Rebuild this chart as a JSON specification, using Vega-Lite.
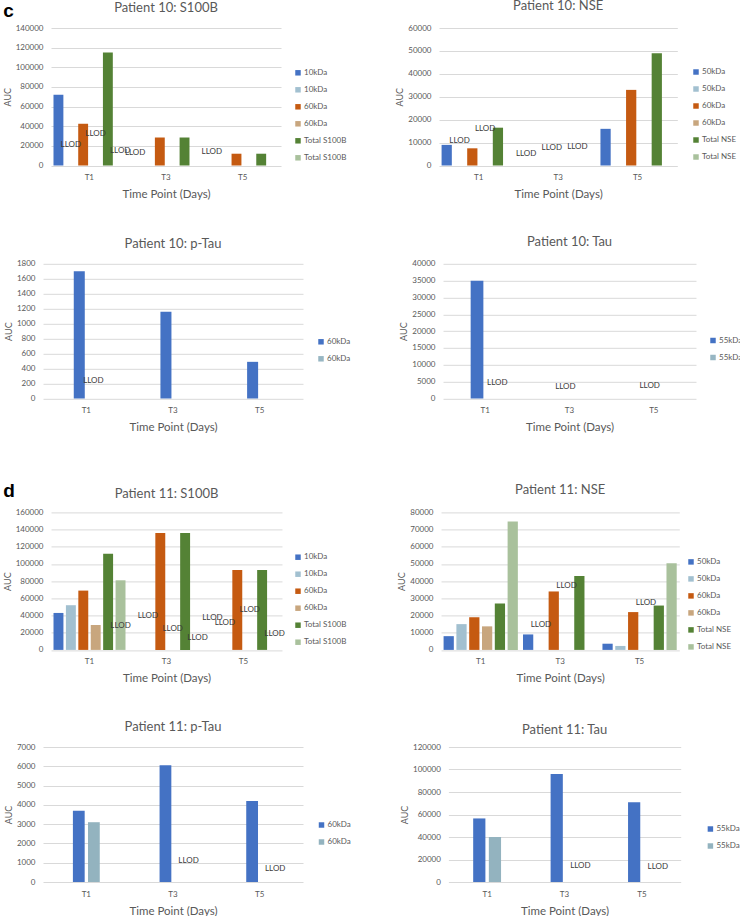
{
  "$schema": "https://vega.github.io/schema/vega-lite/v6.json",
  "background": "white",
  "padding": {"left": 3, "top": 0, "right": 0, "bottom": 0},
  "autosize": {"type": "pad"},
  "config": {
    "font": "Lato",
    "view": {"stroke": null},
    "axis": {"labelFont": "Lato", "labelFontSize": 8, "labelColor": "#595959", "titleFont": "Lato", "titleColor": "#595959", "titleFontWeight": "normal", "ticks": false, "domain": false, "gridColor": "#D9D9D9", "gridWidth": 1},
    "axisX": {"labelPadding": 8, "titlePadding": 7, "titleFontSize": 11.5, "labelAngle": 0, "grid": false},
    "axisY": {"labelPadding": 8, "titlePadding": 3, "titleFontSize": 9, "grid": true},
    "legend": {"symbolType": "square", "symbolSize": 30, "symbolStrokeWidth": 0, "labelFont": "Lato", "labelFontSize": 8, "labelColor": "#595959", "rowPadding": 9, "padding": 0, "labelOffset": 2},
    "title": {"font": "Lato", "fontSize": 13, "fontWeight": "normal", "color": "#595959"},
    "text": {"font": "Lato", "fontSize": 8, "color": "#3A3A3A", "align": "center", "baseline": "middle"}
  },
  "datasets": {
    "p10_s100b": [
      {"time": "T1", "series": "10kDa solid", "auc": 72000},
      {"time": "T1", "series": "60kDa solid", "auc": 42500},
      {"time": "T1", "series": "Total S100B solid", "auc": 115000},
      {"time": "T3", "series": "60kDa solid", "auc": 28500},
      {"time": "T3", "series": "Total S100B solid", "auc": 28500},
      {"time": "T5", "series": "60kDa solid", "auc": 12000},
      {"time": "T5", "series": "Total S100B solid", "auc": 12000},
      {"time": "T1", "series": "10kDa hatched", "note": "LLOD", "llod_at": 21000},
      {"time": "T1", "series": "60kDa hatched", "note": "LLOD", "llod_at": 32500},
      {"time": "T1", "series": "Total S100B hatched", "note": "LLOD", "llod_at": 15000},
      {"time": "T3", "series": "10kDa solid", "note": "LLOD", "llod_at": 13000},
      {"time": "T5", "series": "10kDa solid", "note": "LLOD", "llod_at": 14000}
    ],
    "p10_nse": [
      {"time": "T1", "series": "50kDa solid", "auc": 9000},
      {"time": "T1", "series": "60kDa solid", "auc": 7500},
      {"time": "T1", "series": "Total NSE solid", "auc": 16500},
      {"time": "T5", "series": "50kDa solid", "auc": 16000},
      {"time": "T5", "series": "60kDa solid", "auc": 33000},
      {"time": "T5", "series": "Total NSE solid", "auc": 49000},
      {"time": "T1", "series": "50kDa hatched", "note": "LLOD", "llod_at": 10600},
      {"time": "T1", "series": "60kDa hatched", "note": "LLOD", "llod_at": 16000},
      {"time": "T3", "series": "50kDa solid", "note": "LLOD", "llod_at": 5000},
      {"time": "T3", "series": "60kDa solid", "note": "LLOD", "llod_at": 7800},
      {"time": "T3", "series": "Total NSE solid", "note": "LLOD", "llod_at": 8100}
    ],
    "p10_ptau": [
      {"time": "T1", "series": "60kDa solid", "auc": 1700},
      {"time": "T3", "series": "60kDa solid", "auc": 1160},
      {"time": "T5", "series": "60kDa solid", "auc": 490},
      {"time": "T1", "series": "60kDa hatched", "note": "LLOD", "llod_at": 240}
    ],
    "p10_tau": [
      {"time": "T1", "series": "55kDa solid", "auc": 35000},
      {"time": "T1", "series": "55kDa hatched", "note": "LLOD", "llod_at": 4700},
      {"time": "T3", "series": "55kDa solid", "note": "LLOD", "llod_at": 3500},
      {"time": "T5", "series": "55kDa solid", "note": "LLOD", "llod_at": 3700}
    ],
    "p11_s100b": [
      {"time": "T1", "series": "10kDa solid", "auc": 43000},
      {"time": "T1", "series": "10kDa hatched", "auc": 52000},
      {"time": "T1", "series": "60kDa solid", "auc": 69000},
      {"time": "T1", "series": "60kDa hatched", "auc": 29000},
      {"time": "T1", "series": "Total S100B solid", "auc": 112000},
      {"time": "T1", "series": "Total S100B hatched", "auc": 81000},
      {"time": "T3", "series": "60kDa solid", "auc": 136000},
      {"time": "T3", "series": "Total S100B solid", "auc": 136000},
      {"time": "T5", "series": "60kDa solid", "auc": 93000},
      {"time": "T5", "series": "Total S100B solid", "auc": 93000},
      {"time": "T1", "series": "Total S100B hatched", "note": "LLOD", "llod_at": 28000},
      {"time": "T3", "series": "10kDa hatched", "note": "LLOD", "llod_at": 40000},
      {"time": "T3", "series": "60kDa hatched", "note": "LLOD", "llod_at": 24000},
      {"time": "T3", "series": "Total S100B hatched", "note": "LLOD", "llod_at": 14000},
      {"time": "T5", "series": "10kDa solid", "note": "LLOD", "llod_at": 37500},
      {"time": "T5", "series": "10kDa hatched", "note": "LLOD", "llod_at": 31000},
      {"time": "T5", "series": "60kDa hatched", "note": "LLOD", "llod_at": 47000},
      {"time": "T5", "series": "Total S100B hatched", "note": "LLOD", "llod_at": 19000}
    ],
    "p11_nse": [
      {"time": "T1", "series": "50kDa solid", "auc": 8000},
      {"time": "T1", "series": "50kDa hatched", "auc": 15000},
      {"time": "T1", "series": "60kDa solid", "auc": 19000},
      {"time": "T1", "series": "60kDa hatched", "auc": 13700},
      {"time": "T1", "series": "Total NSE solid", "auc": 27000},
      {"time": "T1", "series": "Total NSE hatched", "auc": 74700},
      {"time": "T3", "series": "50kDa solid", "auc": 9000},
      {"time": "T3", "series": "60kDa solid", "auc": 34000},
      {"time": "T3", "series": "Total NSE solid", "auc": 43000},
      {"time": "T5", "series": "50kDa solid", "auc": 3600},
      {"time": "T5", "series": "50kDa hatched", "auc": 2300},
      {"time": "T5", "series": "60kDa solid", "auc": 22000},
      {"time": "T5", "series": "Total NSE solid", "auc": 25800},
      {"time": "T5", "series": "Total NSE hatched", "auc": 50400},
      {"time": "T3", "series": "50kDa hatched", "note": "LLOD", "llod_at": 14500},
      {"time": "T3", "series": "60kDa hatched", "note": "LLOD", "llod_at": 36900},
      {"time": "T5", "series": "60kDa hatched", "note": "LLOD", "llod_at": 27000}
    ],
    "p11_ptau": [
      {"time": "T1", "series": "60kDa solid", "auc": 3700},
      {"time": "T1", "series": "60kDa hatched", "auc": 3100},
      {"time": "T3", "series": "60kDa solid", "auc": 6050},
      {"time": "T5", "series": "60kDa solid", "auc": 4200},
      {"time": "T3", "series": "60kDa hatched", "note": "LLOD", "llod_at": 1100},
      {"time": "T5", "series": "60kDa hatched", "note": "LLOD", "llod_at": 660}
    ],
    "p11_tau": [
      {"time": "T1", "series": "55kDa solid", "auc": 56500},
      {"time": "T1", "series": "55kDa hatched", "auc": 40000},
      {"time": "T3", "series": "55kDa solid", "auc": 96000},
      {"time": "T5", "series": "55kDa solid", "auc": 71000},
      {"time": "T3", "series": "55kDa hatched", "note": "LLOD", "llod_at": 14400},
      {"time": "T5", "series": "55kDa hatched", "note": "LLOD", "llod_at": 13500}
    ]
  },
  "columns": 1,
  "align": "none",
  "spacing": 48.4,
  "resolve": {"scale": {"color": "independent", "xOffset": "independent"}, "legend": {"color": "independent"}},
  "concat": [
    {
      "columns": 1,
      "align": "none",
      "spacing": 35.8,
      "resolve": {"scale": {"color": "independent", "xOffset": "independent"}, "legend": {"color": "independent"}},
      "concat": [
        {
          "title": {"text": "c", "anchor": "start", "offset": -21, "font": "Liberation Sans", "fontSize": 19, "fontWeight": "bold", "color": "#000000"},
          "bounds": "flush",
          "spacing": 0,
          "resolve": {"scale": {"color": "independent", "xOffset": "independent"}, "legend": {"color": "independent"}},
          "hconcat": [
            {"width": 8, "height": 1, "data": {"values": [{"blank": 0}]}, "mark": {"type": "point", "opacity": 0}},
            {
              "width": 230, "height": 137.5,
              "title": {"text": "Patient 10: S100B", "offset": 8.7},
              "data": {"name": "p10_s100b"},
              "encoding": {
                "x": {"field": "time", "type": "nominal", "scale": {"domain": ["T1", "T3", "T5"], "paddingInner": 0.065, "paddingOuter": 0.0325}, "axis": {"title": "Time Point (Days)"}},
                "xOffset": {"field": "series", "type": "nominal", "scale": {"domain": ["10kDa solid", "10kDa hatched", "60kDa solid", "60kDa hatched", "Total S100B solid", "Total S100B hatched"], "paddingInner": 0.2, "paddingOuter": 0}}
              },
              "layer": [
                {
                  "transform": [{"filter": "isValid(datum.auc)"}],
                  "mark": "bar",
                  "encoding": {
                    "y": {"field": "auc", "type": "quantitative", "scale": {"domain": [0, 140000]}, "axis": {"title": "AUC", "values": [0, 20000, 40000, 60000, 80000, 100000, 120000, 140000], "format": "d"}},
                    "color": {"field": "series", "type": "nominal", "scale": {"domain": ["10kDa solid", "10kDa hatched", "60kDa solid", "60kDa hatched", "Total S100B solid", "Total S100B hatched"], "range": ["#4472C4", "#A2C0D0", "#C55A11", "#C8A67E", "#548235", "#A9C19C"]}, "legend": {"title": null, "orient": "none", "legendX": 243, "legendY": 40.8, "labelExpr": "replace(replace(datum.label, ' hatched', ''), ' solid', '')"}}
                  }
                },
                {
                  "transform": [{"filter": "isValid(datum.llod_at)"}],
                  "mark": {"type": "text"},
                  "encoding": {
                    "y": {"field": "llod_at", "type": "quantitative", "axis": {"title": "AUC", "values": [0, 20000, 40000, 60000, 80000, 100000, 120000, 140000], "format": "d"}},
                    "text": {"field": "note"}
                  }
                }
              ]
            },
            {"width": 158, "height": 1, "data": {"values": [{"blank": 0}]}, "mark": {"type": "point", "opacity": 0}},
            {
              "width": 238.3, "height": 137.5,
              "title": {"text": "Patient 10: NSE", "offset": 10.9},
              "data": {"name": "p10_nse"},
              "encoding": {
                "x": {"field": "time", "type": "nominal", "scale": {"domain": ["T1", "T3", "T5"], "paddingInner": 0.065, "paddingOuter": 0.0325}, "axis": {"title": "Time Point (Days)"}},
                "xOffset": {"field": "series", "type": "nominal", "scale": {"domain": ["50kDa solid", "50kDa hatched", "60kDa solid", "60kDa hatched", "Total NSE solid", "Total NSE hatched"], "paddingInner": 0.2, "paddingOuter": 0}}
              },
              "layer": [
                {
                  "transform": [{"filter": "isValid(datum.auc)"}],
                  "mark": "bar",
                  "encoding": {
                    "y": {"field": "auc", "type": "quantitative", "scale": {"domain": [0, 60000]}, "axis": {"title": "AUC", "values": [0, 10000, 20000, 30000, 40000, 50000, 60000], "format": "d"}},
                    "color": {"field": "series", "type": "nominal", "scale": {"domain": ["50kDa solid", "50kDa hatched", "60kDa solid", "60kDa hatched", "Total NSE solid", "Total NSE hatched"], "range": ["#4472C4", "#A2C0D0", "#C55A11", "#C8A67E", "#548235", "#A9C19C"]}, "legend": {"title": null, "orient": "none", "legendX": 253, "legendY": 40, "labelExpr": "replace(replace(datum.label, ' hatched', ''), ' solid', '')"}}
                  }
                },
                {
                  "transform": [{"filter": "isValid(datum.llod_at)"}],
                  "mark": {"type": "text"},
                  "encoding": {
                    "y": {"field": "llod_at", "type": "quantitative", "axis": {"title": "AUC", "values": [0, 10000, 20000, 30000, 40000, 50000, 60000], "format": "d"}},
                    "text": {"field": "note"}
                  }
                }
              ]
            }
          ]
        },
        {
          "bounds": "flush",
          "spacing": 140,
          "resolve": {"scale": {"color": "independent", "xOffset": "independent"}, "legend": {"color": "independent"}},
          "hconcat": [
            {
              "width": 260, "height": 134.7,
              "title": {"text": "Patient 10: p-Tau", "offset": 8.7},
              "data": {"name": "p10_ptau"},
              "encoding": {
                "x": {"field": "time", "type": "nominal", "scale": {"domain": ["T1", "T3", "T5"], "paddingInner": 0.71, "paddingOuter": 0.355}, "axis": {"title": "Time Point (Days)"}},
                "xOffset": {"field": "series", "type": "nominal", "scale": {"domain": ["60kDa solid", "60kDa hatched"], "paddingInner": 0.22, "paddingOuter": 0}}
              },
              "layer": [
                {
                  "transform": [{"filter": "isValid(datum.auc)"}],
                  "mark": "bar",
                  "encoding": {
                    "y": {"field": "auc", "type": "quantitative", "scale": {"domain": [0, 1800]}, "axis": {"title": "AUC", "values": [0, 200, 400, 600, 800, 1000, 1200, 1400, 1600, 1800], "format": "d"}},
                    "color": {"field": "series", "type": "nominal", "scale": {"domain": ["60kDa solid", "60kDa hatched"], "range": ["#4472C4", "#97B6C3"]}, "legend": {"title": null, "orient": "none", "legendX": 274, "legendY": 74, "labelExpr": "replace(replace(datum.label, ' hatched', ''), ' solid', '')"}}
                  }
                },
                {
                  "transform": [{"filter": "isValid(datum.llod_at)"}],
                  "mark": {"type": "text"},
                  "encoding": {
                    "y": {"field": "llod_at", "type": "quantitative", "axis": {"title": "AUC", "values": [0, 200, 400, 600, 800, 1000, 1200, 1400, 1600, 1800], "format": "d"}},
                    "text": {"field": "note"}
                  }
                }
              ]
            },
            {
              "width": 253, "height": 134.7,
              "title": {"text": "Patient 10: Tau", "offset": 11},
              "data": {"name": "p10_tau"},
              "encoding": {
                "x": {"field": "time", "type": "nominal", "scale": {"domain": ["T1", "T3", "T5"], "paddingInner": 0.656, "paddingOuter": 0.328}, "axis": {"title": "Time Point (Days)"}},
                "xOffset": {"field": "series", "type": "nominal", "scale": {"domain": ["55kDa solid", "55kDa hatched"], "paddingInner": 0.22, "paddingOuter": 0}}
              },
              "layer": [
                {
                  "transform": [{"filter": "isValid(datum.auc)"}],
                  "mark": "bar",
                  "encoding": {
                    "y": {"field": "auc", "type": "quantitative", "scale": {"domain": [0, 40000]}, "axis": {"title": "AUC", "values": [0, 5000, 10000, 15000, 20000, 25000, 30000, 35000, 40000], "format": "d"}},
                    "color": {"field": "series", "type": "nominal", "scale": {"domain": ["55kDa solid", "55kDa hatched"], "range": ["#4472C4", "#97B6C3"]}, "legend": {"title": null, "orient": "none", "legendX": 266, "legendY": 72.7, "labelExpr": "replace(replace(datum.label, ' hatched', ''), ' solid', '')"}}
                  }
                },
                {
                  "transform": [{"filter": "isValid(datum.llod_at)"}],
                  "mark": {"type": "text", "dx": 4},
                  "encoding": {
                    "y": {"field": "llod_at", "type": "quantitative", "axis": {"title": "AUC", "values": [0, 5000, 10000, 15000, 20000, 25000, 30000, 35000, 40000], "format": "d"}},
                    "text": {"field": "note"}
                  }
                }
              ]
            }
          ]
        }
      ]
    },
    {
      "columns": 1,
      "align": "none",
      "spacing": 36.6,
      "resolve": {"scale": {"color": "independent", "xOffset": "independent"}, "legend": {"color": "independent"}},
      "concat": [
        {
          "title": {"text": "d", "anchor": "start", "offset": -17, "font": "Liberation Sans", "fontSize": 19, "fontWeight": "bold", "color": "#000000"},
          "bounds": "flush",
          "spacing": 0,
          "resolve": {"scale": {"color": "independent", "xOffset": "independent"}, "legend": {"color": "independent"}},
          "hconcat": [
            {"width": 8, "height": 1, "data": {"values": [{"blank": 0}]}, "mark": {"type": "point", "opacity": 0}},
            {
              "width": 231, "height": 137.5,
              "title": {"text": "Patient 11: S100B", "offset": 7.2},
              "data": {"name": "p11_s100b"},
              "encoding": {
                "x": {"field": "time", "type": "nominal", "scale": {"domain": ["T1", "T3", "T5"], "paddingInner": 0.065, "paddingOuter": 0.0325}, "axis": {"title": "Time Point (Days)"}},
                "xOffset": {"field": "series", "type": "nominal", "scale": {"domain": ["10kDa solid", "10kDa hatched", "60kDa solid", "60kDa hatched", "Total S100B solid", "Total S100B hatched"], "paddingInner": 0.2, "paddingOuter": 0}}
              },
              "layer": [
                {
                  "transform": [{"filter": "isValid(datum.auc)"}],
                  "mark": "bar",
                  "encoding": {
                    "y": {"field": "auc", "type": "quantitative", "scale": {"domain": [0, 160000]}, "axis": {"title": "AUC", "values": [0, 20000, 40000, 60000, 80000, 100000, 120000, 140000, 160000], "format": "d"}},
                    "color": {"field": "series", "type": "nominal", "scale": {"domain": ["10kDa solid", "10kDa hatched", "60kDa solid", "60kDa hatched", "Total S100B solid", "Total S100B hatched"], "range": ["#4472C4", "#A2C0D0", "#C55A11", "#C8A67E", "#548235", "#A9C19C"]}, "legend": {"title": null, "orient": "none", "legendX": 243, "legendY": 40.8, "labelExpr": "replace(replace(datum.label, ' hatched', ''), ' solid', '')"}}
                  }
                },
                {
                  "transform": [{"filter": "isValid(datum.llod_at)"}],
                  "mark": {"type": "text"},
                  "encoding": {
                    "y": {"field": "llod_at", "type": "quantitative", "axis": {"title": "AUC", "values": [0, 20000, 40000, 60000, 80000, 100000, 120000, 140000, 160000], "format": "d"}},
                    "text": {"field": "note"}
                  }
                }
              ]
            },
            {"width": 159, "height": 1, "data": {"values": [{"blank": 0}]}, "mark": {"type": "point", "opacity": 0}},
            {
              "width": 238.3, "height": 137.5,
              "title": {"text": "Patient 11: NSE", "offset": 11.6},
              "data": {"name": "p11_nse"},
              "encoding": {
                "x": {"field": "time", "type": "nominal", "scale": {"domain": ["T1", "T3", "T5"], "paddingInner": 0.065, "paddingOuter": 0.0325}, "axis": {"title": "Time Point (Days)"}},
                "xOffset": {"field": "series", "type": "nominal", "scale": {"domain": ["50kDa solid", "50kDa hatched", "60kDa solid", "60kDa hatched", "Total NSE solid", "Total NSE hatched"], "paddingInner": 0.2, "paddingOuter": 0}}
              },
              "layer": [
                {
                  "transform": [{"filter": "isValid(datum.auc)"}],
                  "mark": "bar",
                  "encoding": {
                    "y": {"field": "auc", "type": "quantitative", "scale": {"domain": [0, 80000]}, "axis": {"title": "AUC", "values": [0, 10000, 20000, 30000, 40000, 50000, 60000, 70000, 80000], "format": "d"}},
                    "color": {"field": "series", "type": "nominal", "scale": {"domain": ["50kDa solid", "50kDa hatched", "60kDa solid", "60kDa hatched", "Total NSE solid", "Total NSE hatched"], "range": ["#4472C4", "#A2C0D0", "#C55A11", "#C8A67E", "#548235", "#A9C19C"]}, "legend": {"title": null, "orient": "none", "legendX": 246, "legendY": 45.5, "labelExpr": "replace(replace(datum.label, ' hatched', ''), ' solid', '')"}}
                  }
                },
                {
                  "transform": [{"filter": "isValid(datum.llod_at)"}],
                  "mark": {"type": "text"},
                  "encoding": {
                    "y": {"field": "llod_at", "type": "quantitative", "axis": {"title": "AUC", "values": [0, 10000, 20000, 30000, 40000, 50000, 60000, 70000, 80000], "format": "d"}},
                    "text": {"field": "note"}
                  }
                }
              ]
            }
          ]
        },
        {
          "bounds": "flush",
          "spacing": 145.4,
          "resolve": {"scale": {"color": "independent", "xOffset": "independent"}, "legend": {"color": "independent"}},
          "hconcat": [
            {
              "width": 260, "height": 135,
              "title": {"text": "Patient 11: p-Tau", "offset": 8.9},
              "data": {"name": "p11_ptau"},
              "encoding": {
                "x": {"field": "time", "type": "nominal", "scale": {"domain": ["T1", "T3", "T5"], "paddingInner": 0.69, "paddingOuter": 0.345}, "axis": {"title": "Time Point (Days)"}},
                "xOffset": {"field": "series", "type": "nominal", "scale": {"domain": ["60kDa solid", "60kDa hatched"], "paddingInner": 0.22, "paddingOuter": 0}}
              },
              "layer": [
                {
                  "transform": [{"filter": "isValid(datum.auc)"}],
                  "mark": "bar",
                  "encoding": {
                    "y": {"field": "auc", "type": "quantitative", "scale": {"domain": [0, 7000]}, "axis": {"title": "AUC", "values": [0, 1000, 2000, 3000, 4000, 5000, 6000, 7000], "format": "d"}},
                    "color": {"field": "series", "type": "nominal", "scale": {"domain": ["60kDa solid", "60kDa hatched"], "range": ["#4472C4", "#93B3BF"]}, "legend": {"title": null, "orient": "none", "legendX": 274.5, "legendY": 74, "labelExpr": "replace(replace(datum.label, ' hatched', ''), ' solid', '')"}}
                  }
                },
                {
                  "transform": [{"filter": "isValid(datum.llod_at)"}],
                  "mark": {"type": "text", "dx": 8},
                  "encoding": {
                    "y": {"field": "llod_at", "type": "quantitative", "axis": {"title": "AUC", "values": [0, 1000, 2000, 3000, 4000, 5000, 6000, 7000], "format": "d"}},
                    "text": {"field": "note"}
                  }
                }
              ]
            },
            {
              "width": 232.3, "height": 135,
              "title": {"text": "Patient 11: Tau", "offset": 5.6},
              "data": {"name": "p11_tau"},
              "encoding": {
                "x": {"field": "time", "type": "nominal", "scale": {"domain": ["T1", "T3", "T5"], "paddingInner": 0.64, "paddingOuter": 0.32}, "axis": {"title": "Time Point (Days)"}},
                "xOffset": {"field": "series", "type": "nominal", "scale": {"domain": ["55kDa solid", "55kDa hatched"], "paddingInner": 0.22, "paddingOuter": 0}}
              },
              "layer": [
                {
                  "transform": [{"filter": "isValid(datum.auc)"}],
                  "mark": "bar",
                  "encoding": {
                    "y": {"field": "auc", "type": "quantitative", "scale": {"domain": [0, 120000]}, "axis": {"title": "AUC", "values": [0, 20000, 40000, 60000, 80000, 100000, 120000], "format": "d"}},
                    "color": {"field": "series", "type": "nominal", "scale": {"domain": ["55kDa solid", "55kDa hatched"], "range": ["#4472C4", "#93B3BF"]}, "legend": {"title": null, "orient": "none", "legendX": 258, "legendY": 78, "labelExpr": "replace(replace(datum.label, ' hatched', ''), ' solid', '')"}}
                  }
                },
                {
                  "transform": [{"filter": "isValid(datum.llod_at)"}],
                  "mark": {"type": "text", "dx": 8},
                  "encoding": {
                    "y": {"field": "llod_at", "type": "quantitative", "axis": {"title": "AUC", "values": [0, 20000, 40000, 60000, 80000, 100000, 120000], "format": "d"}},
                    "text": {"field": "note"}
                  }
                }
              ]
            }
          ]
        }
      ]
    }
  ]
}
